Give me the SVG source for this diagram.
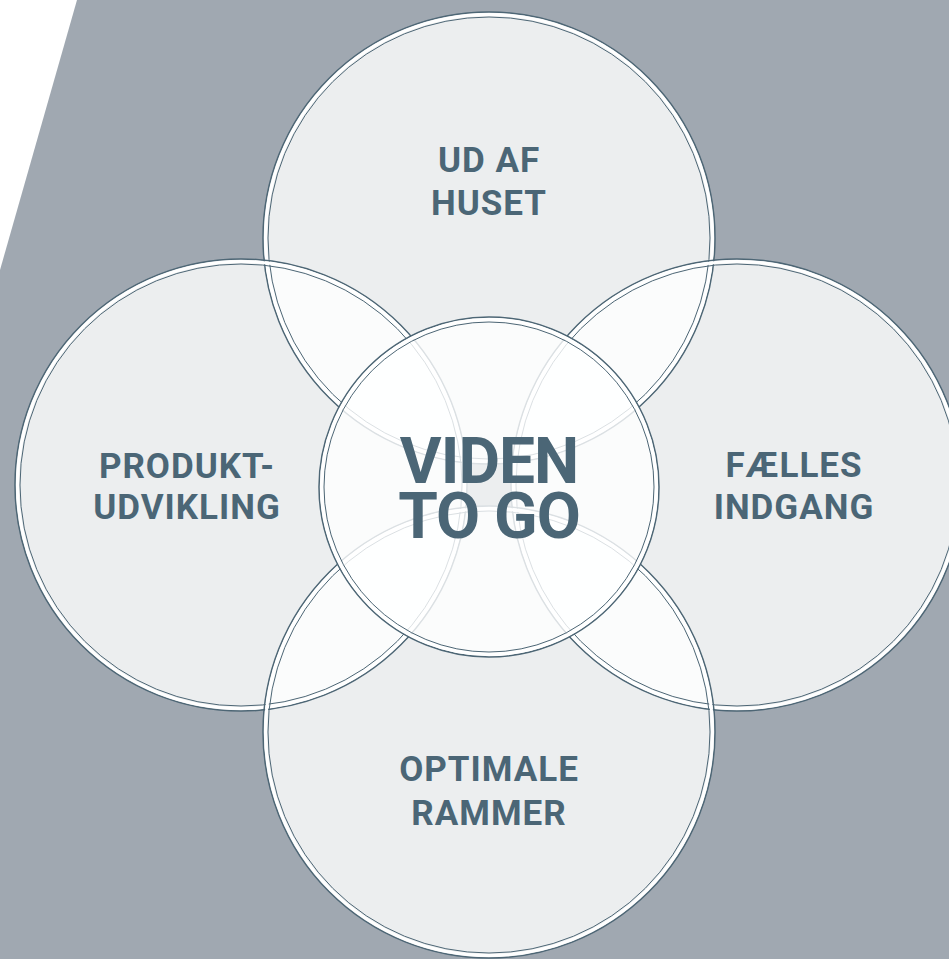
<svg xmlns="http://www.w3.org/2000/svg" width="949" height="959" viewBox="0 0 949 959">
<style>
.fill{fill:#ffffff;fill-opacity:0.8}
.ro{fill:none;stroke:#4d6675;stroke-width:1.5}
.rw{fill:none;stroke:#ffffff;stroke-width:3}
.ri{fill:none;stroke:#4d6675;stroke-width:1}
.lbl{font-family:Roboto,"Liberation Sans",sans-serif;font-weight:700;fill:#4b6676;text-anchor:middle;font-size:35px;letter-spacing:1px}
.big{font-family:Roboto,"Liberation Sans",sans-serif;font-weight:700;fill:#4b6676;text-anchor:middle;font-size:64px;letter-spacing:-1px}
</style>
<rect width="949" height="959" fill="#ffffff"/>
<polygon points="77,0 949,0 949,959 0,959 0,270" fill="#a0a8b1"/>
<g id="petal-fills">
<circle class="fill" cx="489" cy="238" r="226"/>
<circle class="fill" cx="241" cy="485" r="226"/>
<circle class="fill" cx="737" cy="485" r="226"/>
<circle class="fill" cx="489" cy="732" r="226"/>
</g>
<g id="node-top">
<circle class="ro" cx="489" cy="238" r="226"/><circle class="rw" cx="489" cy="238" r="223.5"/><circle class="ri" cx="489" cy="238" r="221"/>
<text class="lbl" x="489" y="172">UD AF</text><text class="lbl" x="489" y="215">HUSET</text>
</g>
<g id="node-left">
<circle class="ro" cx="241" cy="485" r="226"/><circle class="rw" cx="241" cy="485" r="223.5"/><circle class="ri" cx="241" cy="485" r="221"/>
<text class="lbl" x="187" y="478">PRODUKT-</text><text class="lbl" x="187" y="519">UDVIKLING</text>
</g>
<g id="node-right">
<circle class="ro" cx="737" cy="485" r="226"/><circle class="rw" cx="737" cy="485" r="223.5"/><circle class="ri" cx="737" cy="485" r="221"/>
<text class="lbl" x="794" y="477">FÆLLES</text><text class="lbl" x="794" y="519">INDGANG</text>
</g>
<g id="node-bottom">
<circle class="ro" cx="489" cy="732" r="226"/><circle class="rw" cx="489" cy="732" r="223.5"/><circle class="ri" cx="489" cy="732" r="221"/>
<text class="lbl" x="489" y="781">OPTIMALE</text><text class="lbl" x="489" y="825">RAMMER</text>
</g>
<g id="node-center">
<circle class="fill" cx="489" cy="487" r="170"/>
<circle class="ro" cx="489" cy="487" r="170"/><circle class="rw" cx="489" cy="487" r="167.5"/><circle class="ri" cx="489" cy="487" r="165"/>
<text class="big" x="489" y="483">VIDEN</text><text class="big" x="489" y="538">TO GO</text>
</g>
</svg>
